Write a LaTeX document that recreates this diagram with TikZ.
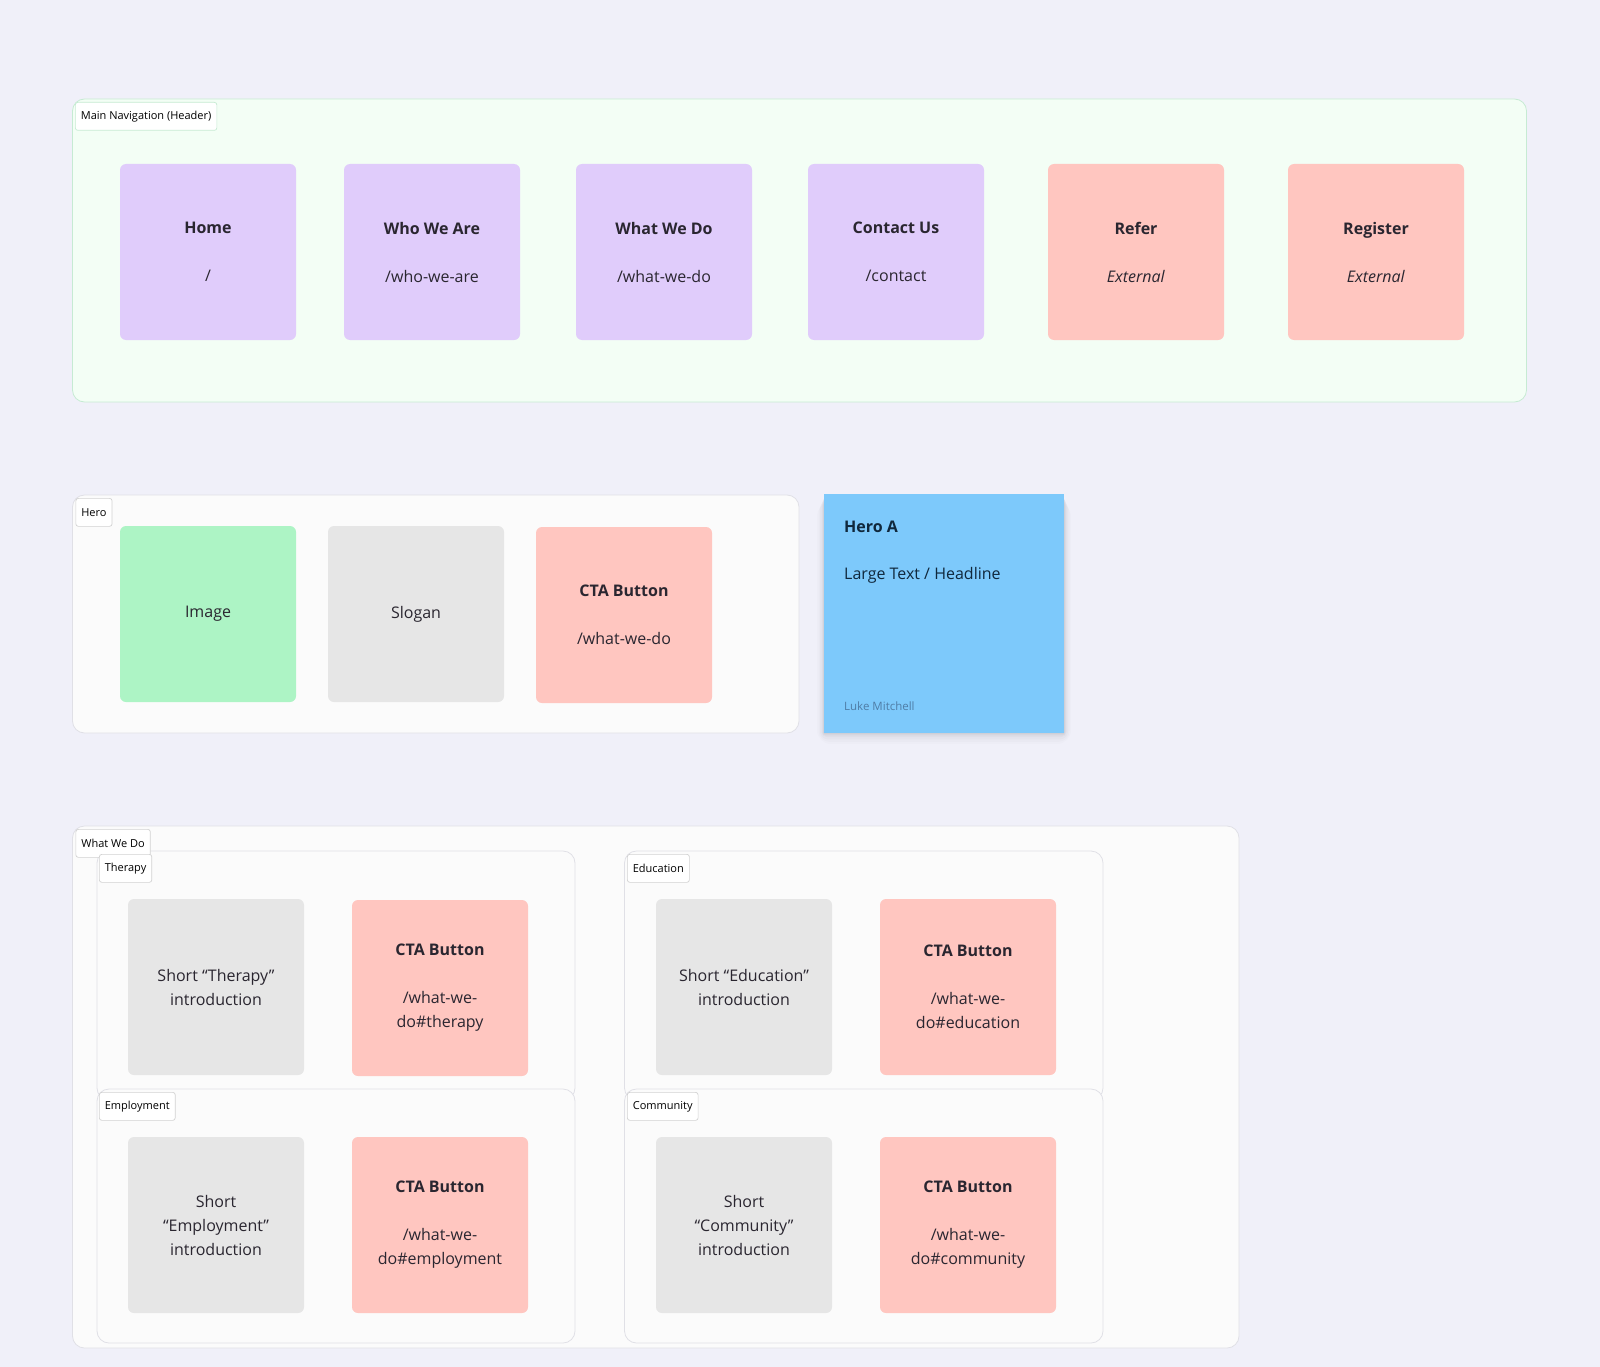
\documentclass[tikz,border=0pt]{standalone}
\usepackage{fontspec}
\setmainfont{Open Sans}
\definecolor{bgc}{HTML}{F0F0F9}
\definecolor{navfill}{HTML}{F3FEF5}
\definecolor{navline}{HTML}{C6EBD3}
\definecolor{purp}{HTML}{E0CCFB}
\definecolor{salm}{HTML}{FFC6C0}
\definecolor{grn}{HTML}{ADF4C5}
\definecolor{gry}{HTML}{E6E6E6}
\definecolor{blu}{HTML}{7DC9FB}
\definecolor{frfill}{HTML}{FBFBFB}
\definecolor{frline}{HTML}{E0E0E6}
\definecolor{lbline}{HTML}{D2D2D2}
\definecolor{txt}{HTML}{2A2630}
\definecolor{navy}{HTML}{10283C}
\definecolor{luke}{HTML}{4F7DA6}
\tikzset{
  card/.style={minimum width=176pt, minimum height=176pt, rounded corners=6pt, align=center, inner sep=0pt, text=txt, font=\fontsize{16}{24}\selectfont},
  navcard/.style={card, fill=purp},
  ctacard/.style={card, fill=salm},
  graycard/.style={card, fill=gry},
  greencard/.style={card, fill=grn},
  framebox/.style={draw=frline, fill=frfill, line width=0.8pt, rounded corners=12pt},
  tag/.style={draw=lbline, fill=white, line width=0.7pt, rounded corners=2.5pt, anchor=north west, minimum height=28pt, inner xsep=5.5pt, inner ysep=0pt, text=black, font=\fontsize{11}{12}\selectfont},
}
\begin{document}
\begin{tikzpicture}[x=1pt,y=-1pt]
\fill[bgc] (0,0) rectangle (1600,1367);
\useasboundingbox (0,0) rectangle (1600,1367);

% ---------- Main navigation ----------
\draw[draw=navline, fill=navfill, line width=0.8pt, rounded corners=12pt] (72.5,99) rectangle (1526.5,402);
\node[tag, draw=navline] (lnav) at (75,102) {Main Navigation (Header)};
\node[navcard] (home) at (208,252) {\textbf{Home}\\[24pt]/};
\node[navcard] (who) at (432,252) {\textbf{Who We Are}\\[24pt]/who-we-are};
\node[navcard] (what) at (664,252) {\textbf{What We Do}\\[24pt]/what-we-do};
\node[navcard] (contact) at (896,252) {\textbf{Contact Us}\\[24pt]/contact};
\node[ctacard] (refer) at (1136,252) {\textbf{Refer}\\[24pt]\textit{External}};
\node[ctacard] (register) at (1376,252) {\textbf{Register}\\[24pt]\textit{External}};

% ---------- Hero ----------
\draw[framebox] (72.5,495) rectangle (799,733);
\node[tag] (lhero) at (75.5,498) {Hero};
\node[greencard] (image) at (208,614) {Image};
\node[graycard] (slogan) at (416,614) {Slogan};
\node[ctacard] (herocta) at (624,615) {\textbf{CTA Button}\\[24pt]/what-we-do};

% sticky note with soft shadow
\foreach \i/\o in {14/0.012,11/0.015,8/0.02,5/0.025,3/0.03,1.5/0.035}{
  \fill[black, opacity=\o, rounded corners=\i pt] (824-\i*0.5,498+\i*0.3) rectangle (1064+\i*0.5,733+\i*0.8);
}
\fill[blu] (824,494) rectangle (1064,733);
\node[anchor=west, inner sep=0pt, text=navy, font=\fontsize{16}{24}\selectfont\bfseries] (heroa) at (844,527) {Hero A};
\node[anchor=west, inner sep=0pt, text=navy, font=\fontsize{16}{24}\selectfont] (herotxt) at (844,575) {Large Text / Headline};
\node[anchor=west, inner sep=0pt, text=luke, font=\fontsize{11.5}{14}\selectfont] (herolm) at (844,706) {Luke Mitchell};

% ---------- What We Do ----------
\draw[framebox] (72.5,826) rectangle (1239,1348);
\draw[framebox] (97,851) rectangle (575,1100);
\draw[framebox] (624.5,851) rectangle (1103,1100);
\draw[framebox] (97,1089) rectangle (575,1343);
\draw[framebox] (624.5,1089) rectangle (1103,1343);
\node[tag] (lwwd) at (75.5,829) {What We Do};
\node[tag] (lther) at (99,854) {Therapy};
\node[tag] (ledu) at (627,854) {Education};
\node[tag] (lemp) at (99,1092) {Employment};
\node[tag] (lcom) at (627,1092) {Community};

\node[graycard] (thint) at (216,987) {Short “Therapy”\\introduction};
\node[ctacard] (thcta) at (440,988) {\textbf{CTA Button}\\[24pt]/what-we-\\do\#therapy};
\node[graycard] (edint) at (744,987) {Short “Education”\\introduction};
\node[ctacard] (edcta) at (968,987) {\textbf{CTA Button}\\[24pt]/what-we-\\do\#education};
\node[graycard] (emint) at (216,1225) {Short\\“Employment”\\introduction};
\node[ctacard] (emcta) at (440,1225) {\textbf{CTA Button}\\[24pt]/what-we-\\do\#employment};
\node[graycard] (coint) at (744,1225) {Short\\“Community”\\introduction};
\node[ctacard] (cocta) at (968,1225) {\textbf{CTA Button}\\[24pt]/what-we-\\do\#community};
\end{tikzpicture}
\end{document}
